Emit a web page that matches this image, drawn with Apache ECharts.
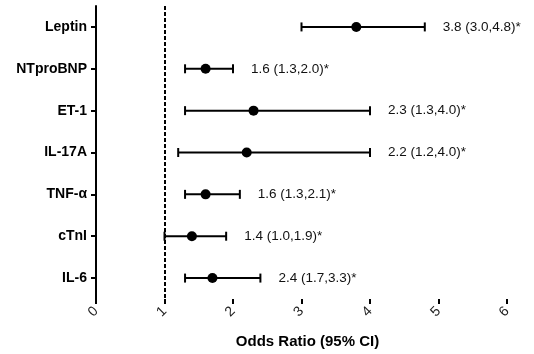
<!DOCTYPE html>
<html>
<head>
<meta charset="utf-8">
<title>Odds Ratio</title>
<script src="https://cdn.jsdelivr.net/npm/echarts@6/dist/echarts.min.js"></script>
<style>
	html, body { margin: 0; padding: 0; background: #fff; }
	#main { width: 534px; height: 354px; }
</style>
</head>
<body>
<div id="main"></div>
<script>
	var categories = ['Leptin', 'NTproBNP', 'ET-1', 'IL-17A', 'TNF-\u03b1', 'cTnI', 'IL-6'];
	var oddsRatio = [3.8, 1.6, 2.3, 2.2, 1.6, 1.4, 1.7];
	var ciLow = [3.0, 1.3, 1.3, 1.2, 1.3, 1.0, 1.3];
	var ciHigh = [4.8, 2.0, 4.0, 4.0, 2.1, 1.9, 2.4];
	var valueLabels = ['3.8 (3.0,4.8)*', '1.6 (1.3,2.0)*', '2.3 (1.3,4.0)*', '2.2 (1.2,4.0)*',
		'1.6 (1.3,2.1)*', '1.4 (1.0,1.9)*', '2.4 (1.7,3.3)*'];
	var xTicks = [0, 1, 2, 3, 4, 5, 6];
	var refLine = 1;

	var font = 'Liberation Sans, Arial, Helvetica, sans-serif';
	var chart = echarts.init(document.getElementById('main'));

	var rows = categories.map(function (c, i) {
		return [ciLow[i], ciHigh[i], oddsRatio[i], i];
	});

	// error bar + dot + text, all from axis coords
	function renderItem(params, api) {
		var idx = api.value(3);
		var y = api.coord([0, idx])[1];
		var lo = api.coord([api.value(0), idx])[0];
		var hi = api.coord([api.value(1), idx])[0];
		var mid = api.coord([api.value(2), idx])[0];
		var cap = 4.5;
		var st = { stroke: '#000', lineWidth: 2 };
		return {
			type: 'group',
			children: [
				{ type: 'line', shape: { x1: lo, y1: y, x2: hi, y2: y }, style: st },
				{ type: 'line', shape: { x1: lo, y1: y - cap, x2: lo, y2: y + cap }, style: st },
				{ type: 'line', shape: { x1: hi, y1: y - cap, x2: hi, y2: y + cap }, style: st },
				{ type: 'circle', shape: { cx: mid, cy: y, r: 5 }, style: { fill: '#000' } },
				{
					type: 'text',
					x: hi + 18, y: y,
					style: {
						text: valueLabels[params.dataIndex],
						fill: '#111', font: '13.5px ' + font,
						verticalAlign: 'middle', align: 'left'
					}
				}
			]
		};
	}

	var option = {
		animation: false,
		grid: { left: 96, right: 27, top: 6, bottom: 51 },
		xAxis: {
			type: 'value',
			min: xTicks[0], max: xTicks[xTicks.length - 1], interval: 1,
			name: 'Odds Ratio (95% CI)',
			nameLocation: 'middle', nameGap: 35,
			nameTextStyle: { color: '#000', fontWeight: 'bold', fontSize: 15, fontFamily: font, padding: [0, 0, 0, 12] },
			axisLine: { lineStyle: { color: '#000', width: 2 } },
			axisTick: { show: true, length: 5, lineStyle: { color: '#000', width: 2 } },
			axisLabel: { rotate: 45, color: '#222', fontSize: 14, fontFamily: font, margin: 10 },
			splitLine: { show: false }
		},
		yAxis: {
			type: 'category',
			data: categories,
			inverse: true,
			axisLine: { lineStyle: { color: '#000', width: 2 } },
			axisTick: { show: true, alignWithLabel: true, length: 5, lineStyle: { color: '#000', width: 2 } },
			axisLabel: { color: '#000', fontWeight: 'bold', fontSize: 14, fontFamily: font, margin: 9 },
			splitLine: { show: false }
		},
		series: [{
			type: 'custom',
			renderItem: renderItem,
			dimensions: ['low', 'high', 'or', 'cat'],
			encode: { x: [0, 1, 2], y: 3 },
			data: rows,
			z: 3
		}, {
			type: 'scatter',
			data: [],
			markLine: {
				silent: true,
				symbol: 'none',
				label: { show: false },
				lineStyle: { color: '#000', width: 2, type: [4, 2] },
				data: [{ xAxis: refLine }]
			}
		}]
	};

	chart.setOption(option);
</script>
</body>
</html>
